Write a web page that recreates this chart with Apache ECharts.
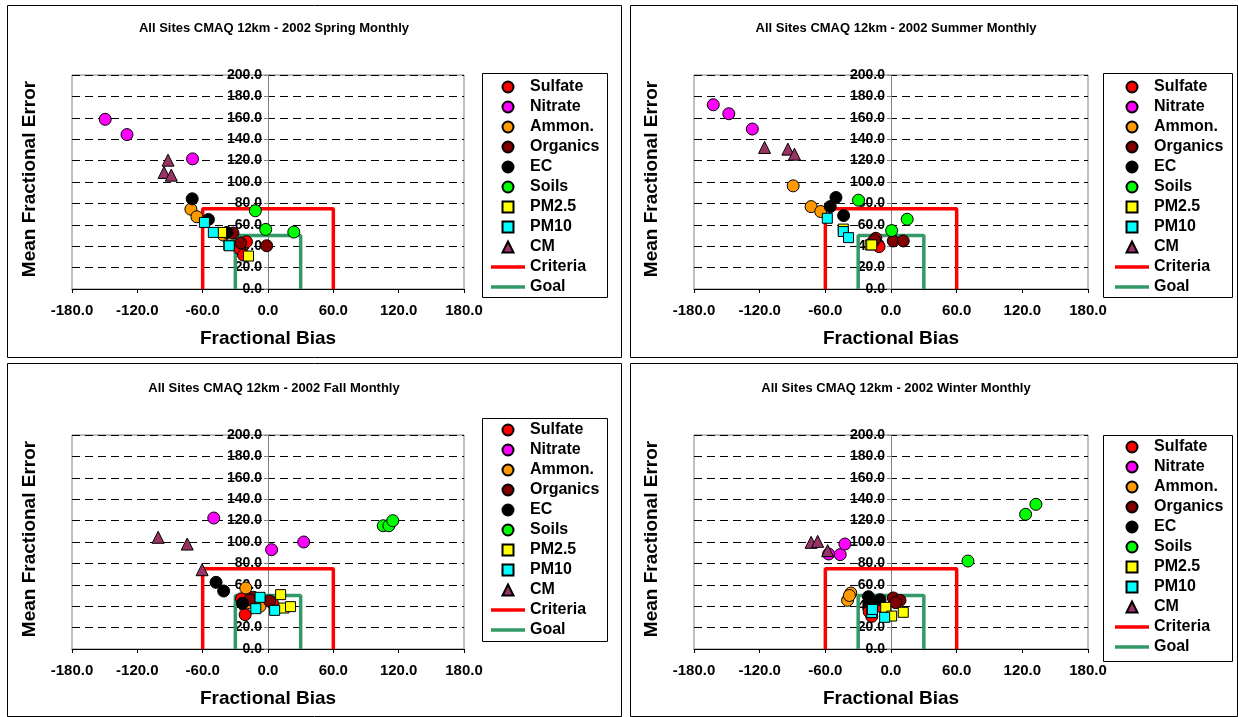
<!DOCTYPE html>
<html>
<head>
<meta charset="utf-8">
<script src="https://cdn.jsdelivr.net/npm/echarts@6/dist/echarts.min.js"></script>
<style>html,body{margin:0;padding:0;background:#fff}#chart{width:1238px;height:717px}</style>
</head>
<body>
<div id="chart"></div>
<script>
// species shown in every panel
var species=['Sulfate','Nitrate','Ammon.','Organics','EC','Soils','PM2.5','PM10','CM'];
var colors=['#FF0000','#FF00FF','#FF9900','#800000','#000000','#00FF00','#FFFF00','#00FFFF','#993366'];
var shapes=['circle','circle','circle','circle','circle','circle','rect','rect','triangle'];
var seasons=['Spring','Summer','Fall','Winter'];

// [fractional bias, mean fractional error] per month, one list per species (same order as species)
var springPts=[
    [[-19.8,44.2],[-26.4,38],[-22.5,31.7]],
    [[-149.5,158.6],[-129.5,144.3],[-69.3,121.6]],
    [[-70.8,74.6],[-65.3,67.5],[-41,50.4]],
    [[-32.2,52.3],[-1.2,40.4],[-25,43]],
    [[-69.6,84.3],[-54.7,65],[-37.7,52.9]],
    [[-11.6,73.1],[-2.1,55.7],[23.7,53.2]],
    [[-42.6,52.9],[-17.9,30.8],[-36,41]],
    [[-58.4,62.2],[-50.2,52.9],[-35.6,40.4]],
    [[-91.8,120.4],[-95.4,108.9],[-88.8,106.4]]
];
var summerPts=[
    [[-13.9,47.4],[-10.9,39.6],[-17,43.4]],
    [[-162.4,172.2],[-148.2,163.8],[-126.7,149.5]],
    [[-89.4,96.4],[-73,77],[-64.2,72.4]],
    [[-15,46],[2.1,44.9],[11.2,44.9]],
    [[-50.3,85.5],[-55.5,77],[-43.3,68.6]],
    [[-29.7,83],[0.6,54.6],[14.8,65.2]],
    [[-43.6,56],[-19,41.2],[-17.6,41.2]],
    [[-58.2,66.1],[-43.6,53.7],[-38.8,48]],
    [[-115.5,132.3],[-94.2,130.7],[-88.2,126]]
];
var fallPts=[
    [[-24.3,47],[-21,32.1],[4,43]],
    [[-49.8,122.4],[3.3,92.8],[32.8,100]],
    [[-20.4,57],[-18.8,43],[-7.3,39.9]],
    [[-13.4,48.3],[1.5,44.9],[-17,46]],
    [[-47.7,62.3],[-40.7,54.2],[-23.4,42.7]],
    [[105.8,115.2],[111,115.2],[114.6,119.9]],
    [[11.6,50.8],[14.6,38.3],[20.7,39.6]],
    [[-7.3,48.3],[-11.2,37.7],[6.1,36.1]],
    [[-100.9,104.4],[-74.2,98.1],[-60.5,74.1]]
];
var winterPts=[
    [[-17.6,30.5],[-20,35],[-10,40]],
    [[-57,88.8],[-46.4,88.2],[-42.1,98.1]],
    [[-36.7,52.3],[-39.7,45.5],[-38,50]],
    [[2.1,47.7],[8.2,45.5],[4.2,43.3]],
    [[-20.6,48.9],[-10,46.1],[-19.4,43.3]],
    [[70.3,82.2],[123,125.9],[132.4,135.2]],
    [[-4.8,38.9],[0.6,30.8],[11.2,34.3]],
    [[-17.6,34],[-5.8,29.6],[-17,37]],
    [[-73,99.7],[-67,100.6],[-57.9,91.9]]
];
var allPts=[springPts,summerPts,fallPts,winterPts];

// performance boxes
var criteriaBox=[[-60,0],[-60,75],[60,75],[60,0]];
var goalBox=[[-30,0],[-30,50],[30,50],[30,0]];

var FONT='"Liberation Sans", Arial, sans-serif';

// panel layout
var panels=[
    {box:[7,5,614,352],grid:[72,75,392,214],leg:[491,79],legBox:[482,73,125,224]},
    {box:[630,5,607,352],grid:[694,75,394,214],leg:[1115,79],legBox:[1103,73,129,224]},
    {box:[7,363,614,353],grid:[72,435,392,214],leg:[491,422],legBox:[482,418,125,223]},
    {box:[630,363,607,353],grid:[694,435,394,214],leg:[1115,439],legBox:[1103,435,129,226]}
];

// legend icons
var squareIcon='path://M0,0L10,0L10,10L0,10Z';
var triIcon='path://M5,0L10,10L0,10Z';
var lineIcon='path://M0,0L34,0L34,3.5L0,3.5Z';
var legendData=species.map(function(s,i){
    if(shapes[i]=='rect') return {name:s,icon:squareIcon};
    if(shapes[i]=='triangle') return {name:s,icon:triIcon};
    return {name:s,icon:'circle'};
}).concat([{name:'Criteria',icon:lineIcon},{name:'Goal',icon:lineIcon}]);

var myChart=echarts.init(document.getElementById('chart'));
var grid=[],xAxis=[],yAxis=[],series=[],legend=[],graphic=[];

panels.forEach(function(p,k){
    grid.push({left:p.grid[0],top:p.grid[1],width:p.grid[2],height:p.grid[3],show:true,borderColor:'#808080',borderWidth:1,backgroundColor:'transparent'});
    xAxis.push({
        gridIndex:k,type:'value',min:-180,max:180,interval:60,
        name:'Fractional Bias',nameLocation:'middle',nameGap:40,
        nameTextStyle:{fontFamily:FONT,fontWeight:'bold',fontSize:19,color:'#000'},
        axisLine:{onZero:true,lineStyle:{color:'#000',width:1}},
        axisTick:{show:true,length:4,lineStyle:{color:'#000'}},
        axisLabel:{margin:14,fontFamily:FONT,fontWeight:'bold',fontSize:15,color:'#000',
            formatter:function(v){return v.toFixed(1)}},
        splitLine:{show:false}
    });
    yAxis.push({
        gridIndex:k,type:'value',min:0,max:200,interval:20,position:'left',
        offset:-p.grid[2]/2,
        axisLine:{show:true,onZero:false,lineStyle:{color:'#808080',width:1}},
        axisTick:{show:true,length:4,lineStyle:{color:'#808080'}},
        axisLabel:{margin:6,fontFamily:FONT,fontWeight:'bold',fontSize:14,color:'#000',
            formatter:function(v){return v.toFixed(1)}},
        splitLine:{show:true,lineStyle:{color:'#000',width:1,type:[8,5]}}
    });
    series.push({
        name:'Criteria',type:'line',xAxisIndex:k,yAxisIndex:k,data:criteriaBox,
        symbol:'none',z:2,lineStyle:{color:'#FF0000',width:3.5},itemStyle:{color:'#FF0000'}
    });
    series.push({
        name:'Goal',type:'line',xAxisIndex:k,yAxisIndex:k,data:goalBox,
        symbol:'none',z:2,lineStyle:{color:'#339966',width:3.5},itemStyle:{color:'#339966'}
    });
    species.forEach(function(s,i){
        series.push({
            name:s,type:'scatter',xAxisIndex:k,yAxisIndex:k,data:allPts[k][i],z:3,
            symbol:shapes[i],symbolSize:shapes[i]=='rect'?10:12,
            itemStyle:{color:colors[i],borderColor:'#000',borderWidth:1,opacity:1}
        });
    });
    legend.push({
        orient:'vertical',left:p.leg[0],top:p.leg[1],padding:0,itemGap:4,
        itemWidth:34,itemHeight:11,selectedMode:false,symbolKeepAspect:true,
        data:legendData,
        textStyle:{fontFamily:FONT,fontWeight:'bold',fontSize:16,color:'#000'}
    });
    graphic.push({type:'rect',silent:true,shape:{x:p.box[0]+0.5,y:p.box[1]+0.5,width:p.box[2],height:p.box[3]},
        style:{fill:'none',stroke:'#000',lineWidth:1}});
    graphic.push({type:'rect',silent:true,shape:{x:p.legBox[0]+0.5,y:p.legBox[1]+0.5,width:p.legBox[2],height:p.legBox[3]},
        style:{fill:'none',stroke:'#000',lineWidth:1}});
    graphic.push({type:'text',silent:true,x:p.grid[0]+202,y:p.grid[1]-47,
        style:{text:'All Sites CMAQ 12km - 2002 '+seasons[k]+' Monthly',font:'bold 13px '+FONT,fill:'#000',align:'center',verticalAlign:'middle'}});
    graphic.push({type:'text',silent:true,x:p.grid[0]-42,y:p.grid[1]+104,rotation:Math.PI/2,
        style:{text:'Mean Fractional Error',font:'bold 19px '+FONT,fill:'#000',align:'center',verticalAlign:'middle'}});
});

var option={
    animation:false,
    backgroundColor:'#fff',
    grid:grid,
    xAxis:xAxis,
    yAxis:yAxis,
    legend:legend,
    graphic:graphic,
    series:series
};
myChart.setOption(option);
</script>
</body>
</html>
